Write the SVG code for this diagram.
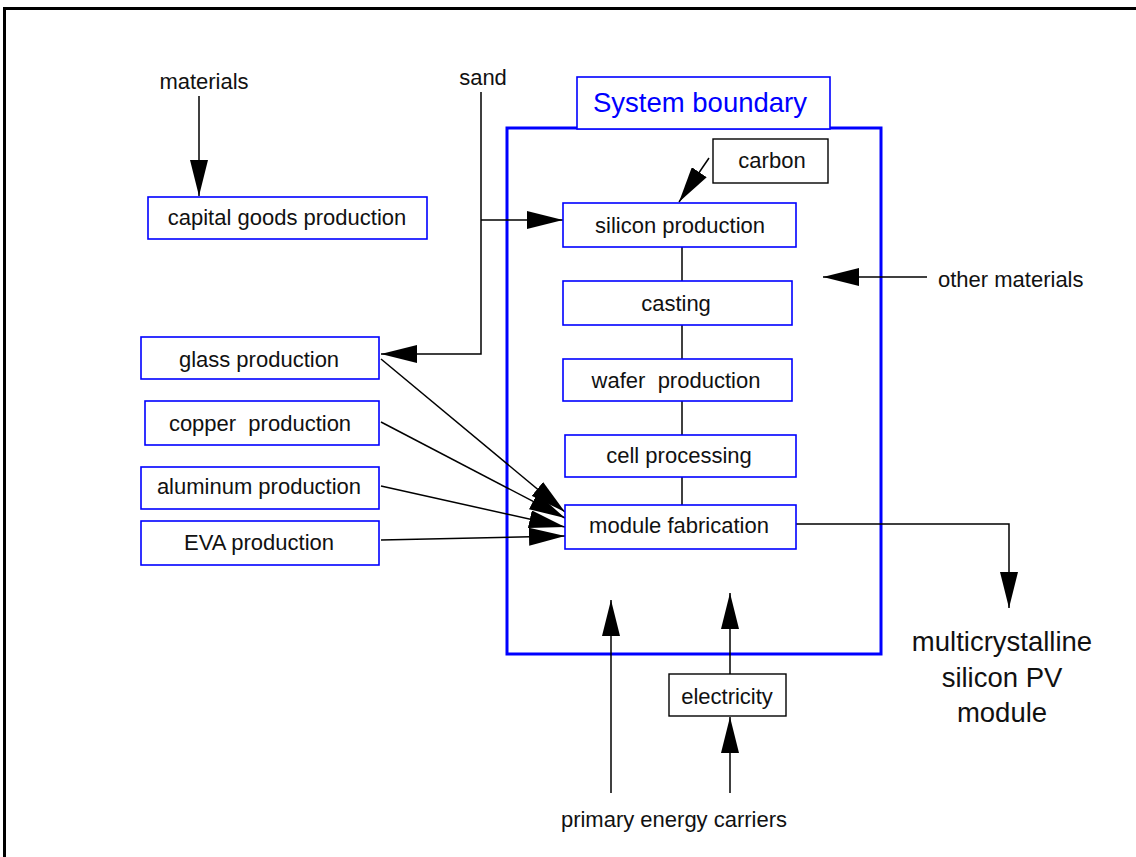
<svg xmlns="http://www.w3.org/2000/svg" width="1136" height="857" viewBox="0 0 1136 857">
<style>
.t{font-family:"Liberation Sans",Arial,sans-serif;font-size:22px;fill:#111;text-anchor:middle}
.bb{fill:#fff;stroke:#00f;stroke-width:1.6}
.kb{fill:#fff;stroke:#000;stroke-width:1.4}
.c{fill:none;stroke:#000;stroke-width:1.5}
.ca{fill:none;stroke:#000;stroke-width:1.5;marker-end:url(#ah)}
</style>
<defs>
<marker id="ah" viewBox="0 0 36 18" markerWidth="36" markerHeight="18" refX="36" refY="9" orient="auto" markerUnits="userSpaceOnUse">
<path d="M0,0 L36,9 L0,18 z" fill="#000"/>
</marker>
</defs>
<rect width="1136" height="857" fill="#fff"/>
<path d="M4.5,857 V8.5 H1136" fill="none" stroke="#000" stroke-width="3"/>

<g id="system-boundary">
<rect x="507" y="128" width="374" height="526" fill="none" stroke="#00f" stroke-width="3"/>
<rect x="577" y="77" width="253" height="52" class="bb"/>
<text x="700" y="112" class="t" style="font-size:27.5px;fill:#00f">System boundary</text>
</g>

<g id="connectors">
<line x1="199" y1="96" x2="199" y2="196" class="ca"/>
<polyline points="481,92 481,354 381,354" class="ca"/>
<polyline points="481,220 563,220" class="ca"/>
<line x1="709" y1="158" x2="679" y2="202" class="ca"/>
<line x1="682" y1="247" x2="682" y2="281" class="c"/>
<line x1="682" y1="325" x2="682" y2="359" class="c"/>
<line x1="682" y1="401" x2="682" y2="435" class="c"/>
<line x1="682" y1="477" x2="682" y2="505" class="c"/>
<line x1="927" y1="277" x2="823" y2="277" class="ca"/>
<line x1="381" y1="359" x2="565" y2="512" class="ca"/>
<line x1="381" y1="422" x2="565" y2="518" class="ca"/>
<line x1="381" y1="486" x2="565" y2="527" class="ca"/>
<line x1="381" y1="540" x2="565" y2="536" class="ca"/>
<polyline points="796,524 1009,524 1009,608" class="ca"/>
<line x1="611" y1="793" x2="611" y2="600" class="ca"/>
<line x1="730" y1="674" x2="730" y2="593" class="ca"/>
<line x1="730" y1="793" x2="730" y2="717" class="ca"/>
</g>

<g id="materials"><text x="204" y="89" class="t">materials</text></g>
<g id="sand"><text x="483" y="85" class="t">sand</text></g>
<g id="capital-goods"><rect x="148" y="197" width="279" height="42" class="bb"/><text x="287" y="225" class="t">capital goods production</text></g>
<g id="carbon"><rect x="713" y="139" width="115" height="44" class="kb"/><text x="772" y="168" class="t">carbon</text></g>
<g id="silicon"><rect x="563" y="203" width="233" height="44" class="bb"/><text x="680" y="233" class="t">silicon production</text></g>
<g id="casting"><rect x="563" y="281" width="229" height="44" class="bb"/><text x="676" y="311" class="t">casting</text></g>
<g id="wafer"><rect x="563" y="359" width="229" height="42" class="bb"/><text x="676" y="388" class="t" xml:space="preserve">wafer  production</text></g>
<g id="cell"><rect x="565" y="435" width="231" height="42" class="bb"/><text x="679" y="463" class="t">cell processing</text></g>
<g id="module"><rect x="565" y="505" width="231" height="44" class="bb"/><text x="679" y="533" class="t">module fabrication</text></g>
<g id="other-materials"><text x="938" y="287" class="t" style="text-anchor:start">other materials</text></g>
<g id="glass"><rect x="141" y="337" width="238" height="42" class="bb"/><text x="259" y="367" class="t">glass production</text></g>
<g id="copper"><rect x="145" y="401" width="234" height="44" class="bb"/><text x="260" y="431" class="t" xml:space="preserve">copper  production</text></g>
<g id="aluminum"><rect x="141" y="467" width="238" height="42" class="bb"/><text x="259" y="494" class="t">aluminum production</text></g>
<g id="eva"><rect x="141" y="521" width="238" height="44" class="bb"/><text x="259" y="550" class="t">EVA production</text></g>
<g id="electricity"><rect x="669" y="674" width="117" height="42" class="kb"/><text x="727" y="704" class="t">electricity</text></g>
<g id="primary-energy"><text x="674" y="827" class="t">primary energy carriers</text></g>
<g id="pv-module"><text x="1002" y="651" class="t" style="font-size:27.5px">multicrystalline</text><text x="1002" y="687" class="t" style="font-size:27.5px">silicon PV</text><text x="1002" y="722" class="t" style="font-size:27.5px">module</text></g>
</svg>
